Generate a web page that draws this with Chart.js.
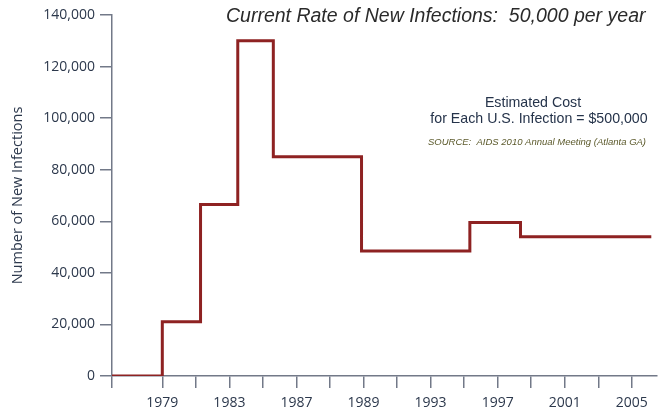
<!DOCTYPE html>
<html>
<head>
<meta charset="utf-8">
<script src="https://cdn.jsdelivr.net/npm/chart.js@4.4.1/dist/chart.umd.min.js"></script>
<style>
  html, body { margin: 0; padding: 0; background: #fff; }
  #wrap { width: 665px; height: 416px; }
</style>
</head>
<body>
<div id="wrap"><canvas id="chart" width="665" height="416"></canvas></div>
<script>
// x runs in tick units: one tick = one slot on the original axis, labels on every other tick
const TICK_LABELS = ['1979', '', '1983', '', '1987', '', '1989', '', '1993', '', '1997', '', '2001', '', '2005'];
// start of each step (tick units) and the number of new infections from there on
const STEP_X = [-1.5, 0, 1.14, 2.25, 3.31, 5.94, 9.17, 10.68, 14.58];
const STEP_Y = [0, 21000, 66500, 130000, 85000, 48500, 59500, 54000, 54000];
const Y_TICKS = [0, 20000, 40000, 60000, 80000, 100000, 120000, 140000];

const TITLE = 'Current Rate of New Infections:  50,000 per year';
const NOTE = ['Estimated Cost', 'for Each U.S. Infection = $500,000'];
const SOURCE = 'SOURCE:  AIDS 2010 Annual Meeting (Atlanta GA)';

const AXIS = '#727988';
const LINE = '#8e2222';
const TEXT = '#2c384c';

const textPlugin = {
  id: 'notes',
  afterDraw(chart) {
    const ctx = chart.ctx;
    ctx.save();
    ctx.fillStyle = '#2a2a2a';
    ctx.font = 'italic 19.5px "Liberation Sans", Arial, sans-serif';
    ctx.textAlign = 'left';
    ctx.textBaseline = 'alphabetic';
    ctx.fillText(TITLE, 226, 22);

    ctx.textAlign = 'center';
    ctx.fillStyle = '#25334a';
    ctx.font = '14.2px "Liberation Sans", Arial, sans-serif';
    ctx.fillText(NOTE[0], 533, 107);
    ctx.fillText(NOTE[1], 539, 123);

    ctx.fillStyle = '#5c5a2c';
    ctx.font = 'italic 9.5px "Liberation Sans", Arial, sans-serif';
    ctx.fillText(SOURCE, 537, 145);
    ctx.restore();
  }
};

new Chart(document.getElementById('chart'), {
  type: 'line',
  data: {
    datasets: [{
      data: STEP_X.map((x, i) => ({ x, y: STEP_Y[i] })),
      stepped: 'before',
      borderColor: LINE,
      borderWidth: 3,
      borderJoinStyle: 'miter',
      pointRadius: 0,
      fill: false,
    }],
  },
  options: {
    responsive: false,
    animation: false,
    layout: { padding: { top: 15, right: 8, left: 0, bottom: 0 } },
    plugins: { legend: { display: false }, tooltip: { enabled: false } },
    scales: {
      x: {
        type: 'linear',
        min: -1.5,
        max: 14.75,
        afterBuildTicks: (s) => { s.ticks = [{ value: -1.5 }].concat(TICK_LABELS.map((_, i) => ({ value: i }))); },
        afterFit: (s) => { s.height = 40; },
        border: { color: AXIS, width: 1.5 },
        grid: { drawOnChartArea: false, drawTicks: true, tickLength: 12, color: AXIS, lineWidth: 1.5 },
        ticks: {
          autoSkip: false,
          maxRotation: 0,
          padding: 7,
          color: TEXT,
          font: { family: '"Open Sans", sans-serif', size: 14 },
          callback: (v) => (v >= 0 ? TICK_LABELS[Math.round(v)] : ''),
        },
      },
      y: {
        min: 0,
        max: 140000,
        afterBuildTicks: (s) => { s.ticks = Y_TICKS.map((v) => ({ value: v })); },
        afterFit: (s) => { s.width = 112; },
        border: { color: AXIS, width: 1.5 },
        grid: { drawOnChartArea: false, drawTicks: true, tickLength: 12, color: AXIS, lineWidth: 1.5 },
        ticks: {
          padding: 5,
          color: TEXT,
          font: { family: '"Open Sans", sans-serif', size: 14 },
          callback: (v) => v.toLocaleString('en-US'),
        },
        title: {
          display: true,
          text: 'Number of New Infections',
          color: TEXT,
          padding: { top: 9, bottom: 0 },
          font: { family: '"Open Sans", sans-serif', size: 14.5 },
        },
      },
    },
  },
  plugins: [textPlugin],
});
</script>
</body>
</html>
